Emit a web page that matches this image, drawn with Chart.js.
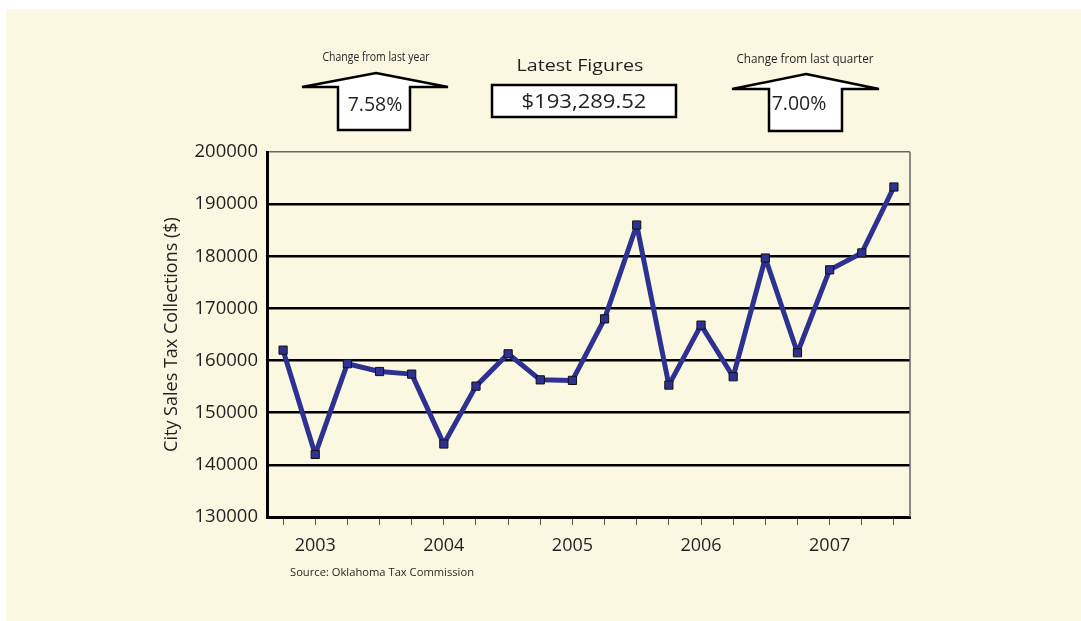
<!DOCTYPE html>
<html><head><meta charset="utf-8">
<script src="https://cdn.jsdelivr.net/npm/chart.js@4/dist/chart.umd.min.js"></script>
<style>
html,body{margin:0;padding:0;background:#fff;}
#wrap{position:relative;width:1081px;height:621px;overflow:hidden;}
#bg{position:absolute;left:6px;top:9px;right:0;bottom:0;background:#FBF8E1;}
#c{position:absolute;left:0;top:0;}
#ov{position:absolute;left:0;top:0;}
#ov text{font-family:'Open Sans',sans-serif;fill:#231F20;}
</style></head><body>
<div id="wrap"><div id="bg"></div><canvas id="c" width="1081" height="621"></canvas>
<svg id="ov" width="1081" height="621" viewBox="0 0 1081 621">
  <polygon points="376,73 448,87 410,87 410,130 338,130 338,87 302,87" fill="#fff" stroke="#000" stroke-width="2.5" stroke-linejoin="miter"/>
  <text x="376" y="61" font-size="12.5" text-anchor="middle" textLength="107" lengthAdjust="spacingAndGlyphs">Change from last year</text>
  <text x="375" y="111" font-size="19.5" text-anchor="middle">7.58%</text>
  <text x="580" y="71" font-size="15.5" text-anchor="middle" textLength="127" lengthAdjust="spacingAndGlyphs">Latest Figures</text>
  <rect x="492" y="85" width="184" height="32" fill="#fff" stroke="#000" stroke-width="2.5"/>
  <text x="584" y="108" font-size="19.5" text-anchor="middle" textLength="125" lengthAdjust="spacingAndGlyphs">$193,289.52</text>
  <polygon points="806,74 879,89 842,89 842,131 769,131 769,89 732,89" fill="#fff" stroke="#000" stroke-width="2.5" stroke-linejoin="miter"/>
  <text x="805" y="63" font-size="12.5" text-anchor="middle" textLength="137" lengthAdjust="spacingAndGlyphs">Change from last quarter</text>
  <text x="799" y="110" font-size="19.5" text-anchor="middle">7.00%</text>
  <text x="290" y="576" font-size="11.5" textLength="184" lengthAdjust="spacingAndGlyphs">Source: Oklahoma Tax Commission</text>
</svg>
</div>
<script>
const quarters = ['2002 Q4','2003 Q1','2003 Q2','2003 Q3','2003 Q4','2004 Q1','2004 Q2','2004 Q3','2004 Q4','2005 Q1','2005 Q2','2005 Q3','2005 Q4','2006 Q1','2006 Q2','2006 Q3','2006 Q4','2007 Q1','2007 Q2','2007 Q3'];
const collections = [162000,142000,159400,157900,157400,144000,155100,161300,156300,156200,168000,186000,155300,166800,156900,179670,161500,177400,180640,193289.52];
const xTickLabels = ['','2003','','','','2004','','','','2005','','','','2006','','','','2007','',''];
const yMin = 130000, yMax = 200000, yStep = 10000;
const yTitle = 'City Sales Tax Collections ($)';

const FONT = "'Open Sans', sans-serif";
const rightBorder = {
  id:'rightBorder',
  afterDraw(chart){
    const a = chart.chartArea, ctx = chart.ctx;
    ctx.save();
    ctx.strokeStyle = '#666'; ctx.lineWidth = 1.5;
    ctx.beginPath(); ctx.moveTo(a.right, a.top); ctx.lineTo(a.right, a.bottom); ctx.stroke();
    ctx.restore();
  }
};

new Chart(document.getElementById('c'), {
  type:'line',
  data:{
    labels: quarters,
    datasets:[{
      data: collections,
      borderColor:'#2E3192',
      borderWidth:5,
      borderJoinStyle:'round',
      borderCapStyle:'round',
      backgroundColor:'#2E3192',
      pointStyle:'rect',
      pointRadius:5.8,
      pointBorderColor:'#111',
      pointBorderWidth:1,
      pointBackgroundColor:'#2E3192',
      tension:0
    }]
  },
  options:{
    responsive:false,
    animation:false,
    devicePixelRatio:1,
    layout:{padding:{top:152,right:171,left:0,bottom:0}},
    plugins:{legend:{display:false},tooltip:{enabled:false}},
    scales:{
      x:{
        offset:true,
        afterFit(s){ s.height = 104; },
        ticks:{autoSkip:false,maxRotation:0,minRotation:0,padding:10,color:'#231F20',
          font:{family:FONT,size:18},
          callback:(v,i)=>xTickLabels[i]},
        grid:{drawOnChartArea:false,drawTicks:true,tickLength:8,color:'#555',lineWidth:1},
        border:{color:'#000',width:3}
      },
      y:{
        min:yMin,max:yMax,
        afterFit(s){ s.width = 267; },
        ticks:{stepSize:yStep,padding:9,color:'#231F20',font:{family:FONT,size:18.5},
          callback:v=>String(v)},
        grid:{drawTicks:false,
          color:c=> (c.tick && c.tick.value===yMax) ? '#666' : '#000',
          lineWidth:c=> (c.tick && c.tick.value===yMax) ? 1.5 : 2.5},
        border:{color:'#000',width:3},
        title:{display:true,text:yTitle,color:'#231F20',font:{family:FONT,size:18},padding:{top:161,bottom:0}}
      }
    }
  },
  plugins:[rightBorder]
});
</script>
</body></html>
